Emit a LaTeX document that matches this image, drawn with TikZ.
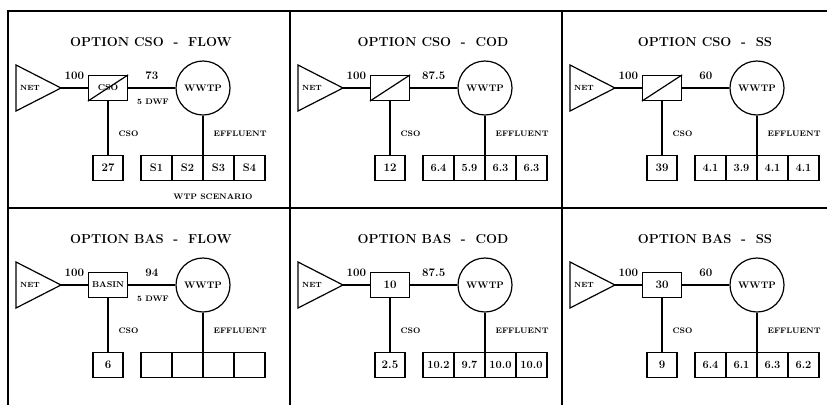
\documentclass[tikz,border=0pt]{standalone}
\usepackage{fontspec}
\usetikzlibrary{positioning}

\tikzset{
  heading/.style={font=\fontsize{13}{15}\selectfont\bfseries},
  tag/.style={font=\fontsize{8}{9}\selectfont\bfseries, inner sep=1pt},
  flow/.style={font=\fontsize{11.5}{13}\selectfont\bfseries},
  unit/.style={draw, minimum width=39pt, minimum height=25pt, inner sep=0pt,
    font=\fontsize{11.5}{13}\selectfont\bfseries},
  plant/.style={draw, circle, minimum size=54pt, inner sep=0pt,
    font=\fontsize{9.5}{10}\selectfont\bfseries},
  valbox/.style={draw, minimum width=30pt, minimum height=25pt, inner sep=0pt,
    font=\fontsize{11.5}{13}\selectfont\bfseries},
  cell/.style={draw, minimum width=31pt, minimum height=25pt, inner sep=0pt,
    outer sep=0pt, font=\fontsize{11}{13}\selectfont\bfseries}
}

% one option panel: prefix, title, inflow, outflow, unit text, cso value, effluent cells
\newcommand{\optionpanel}[7]{%
  \node[heading] (#1-head) at (143,31) {#2};
  \coordinate (#1-tip) at (53,77);
  \draw (8,54) -- (#1-tip) -- (8,100) -- cycle;
  \node[tag, font=\fontsize{7.5}{8}\selectfont\bfseries] (#1-net) at (22,77) {NET};
  \node[unit] (#1-unit) at (100,77) {#5};
  \node[plant] (#1-wwtp) at (195,77) {WWTP};
  \node[valbox] (#1-cso) at (100,157) {#6};
  \foreach \v [count=\i] in {#7}
    \node[cell] (#1-s\i) at ({117.5+31*\i},157) {\v};
  \draw (#1-tip) -- node[flow, above=4pt] (#1-qin) {#3} (#1-unit);
  \draw (#1-unit) -- node[flow, above=4pt] (#1-qout) {#4} (#1-wwtp);
  \draw (#1-unit) -- node[tag, right=9pt, pos=0.6] (#1-over) {CSO} (#1-cso);
  \draw (#1-wwtp) -- node[tag, right=9pt, pos=0.45] (#1-eff) {EFFLUENT} (#1-s2.north east);
}

\newcommand{\smalltxt}[1]{{\fontsize{8.5}{9}\selectfont #1}}

\begin{document}
\begin{tikzpicture}[x=1pt, y=-1pt, line width=1.2pt]
  \useasboundingbox (0,0) rectangle (827,405);
  % frame
  \draw (8,405) -- (8,11) -- (827,11);
  \draw (8,208) -- (827,208);
  \draw (290,11) -- (290,405);
  \draw (562,11) -- (562,405);

  \begin{scope}[shift={(8,11)}]
    \optionpanel{p1}{OPTION CSO \ - \ FLOW}{100}{73}{\smalltxt{CSO}}{27}{S1,S2,S3,S4}
    \draw (p1-unit.south west) -- (p1-unit.north east);
    \node[tag] (p1-dwf) at (145,91) {5 DWF};
    \node[tag] (p1-scen) at (205,186) {WTP SCENARIO};
  \end{scope}

  \begin{scope}[shift={(290,11)}]
    \optionpanel{p2}{OPTION CSO \ - \ COD}{100}{87.5}{}{12}{6.4,5.9,6.3,6.3}
    \draw (p2-unit.south west) -- (p2-unit.north east);
  \end{scope}

  \begin{scope}[shift={(562,11)}]
    \optionpanel{p3}{OPTION CSO \ - \ SS}{100}{60}{}{39}{4.1,3.9,4.1,4.1}
    \draw (p3-unit.south west) -- (p3-unit.north east);
  \end{scope}

  \begin{scope}[shift={(8,208)}]
    \optionpanel{p4}{OPTION BAS \ - \ FLOW}{100}{94}{\smalltxt{BASIN}}{6}{{},{},{},{}}
    \node[tag] (p4-dwf) at (145,91) {5 DWF};
  \end{scope}

  \begin{scope}[shift={(290,208)}]
    \optionpanel{p5}{OPTION BAS \ - \ COD}{100}{87.5}{10}{2.5}{10.2,9.7,10.0,10.0}
  \end{scope}

  \begin{scope}[shift={(562,208)}]
    \optionpanel{p6}{OPTION BAS \ - \ SS}{100}{60}{30}{9}{6.4,6.1,6.3,6.2}
  \end{scope}
\end{tikzpicture}
\end{document}
